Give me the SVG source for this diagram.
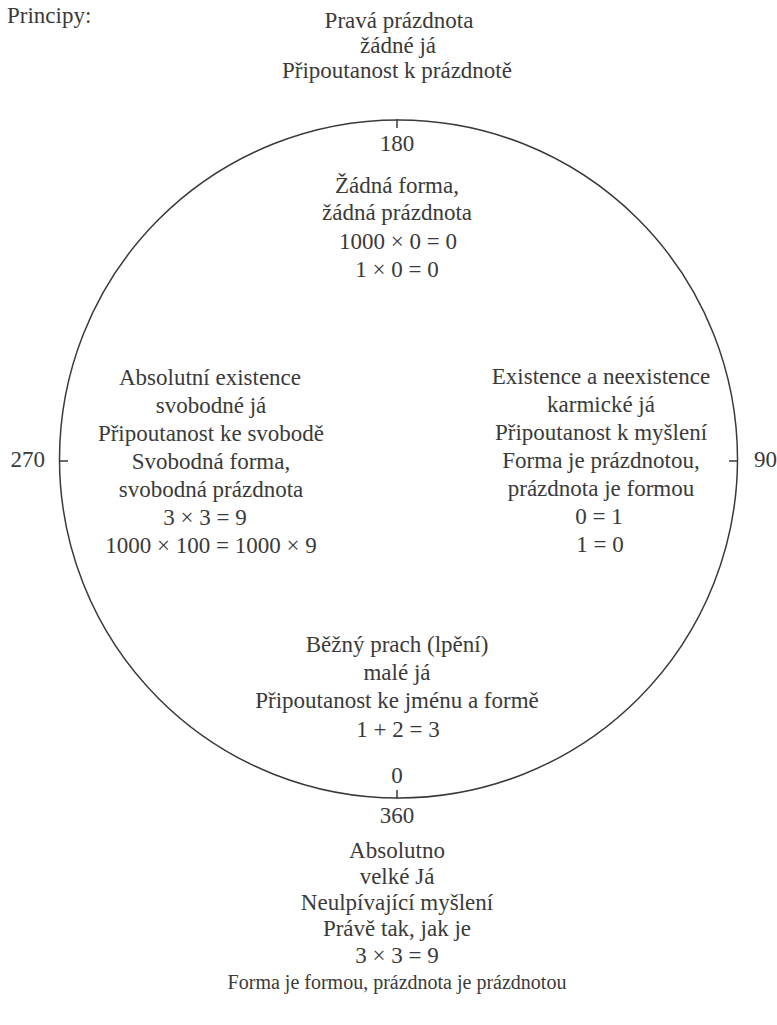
<svg xmlns="http://www.w3.org/2000/svg" width="777" height="1025" viewBox="0 0 777 1025" font-family="'Liberation Serif', 'DejaVu Serif', serif" font-size="23" fill="#3a3a3a">
<style>
.c{text-anchor:middle}
.ln{fill:none;stroke:#3a3a3a;stroke-width:1.5}
</style>
<rect width="777" height="1025" fill="#ffffff"/>
<g id="circle">
<circle class="ln" cx="398.5" cy="459" r="339"/>
</g>
<g id="connectors">
<line class="ln" x1="397" y1="119" x2="397" y2="128"/>
<line class="ln" x1="397" y1="790" x2="397" y2="799"/>
<line class="ln" x1="59" y1="461" x2="68" y2="461"/>
<line class="ln" x1="729" y1="461" x2="738" y2="461"/>
</g>
<g id="title"><text x="7" y="23">Principy:</text></g>
<g id="top-outer">
<text class="c" x="399" y="28">Pravá prázdnota</text>
<text class="c" x="398" y="53">žádné já</text>
<text class="c" x="397" y="78">Připoutanost k prázdnotě</text>
</g>
<g id="label-180"><text class="c" x="397" y="151">180</text></g>
<g id="label-270"><text x="45" y="467" text-anchor="end">270</text></g>
<g id="label-90"><text x="754" y="467">90</text></g>
<g id="label-0"><text class="c" x="397" y="783">0</text></g>
<g id="label-360"><text class="c" x="397" y="823">360</text></g>
<g id="top-inner">
<text class="c" x="397" y="193">Žádná forma,</text>
<text class="c" x="397" y="220">žádná prázdnota</text>
<text class="c" x="398" y="249">1000 × 0 = 0</text>
<text class="c" x="397" y="277">1 × 0 = 0</text>
</g>
<g id="left">
<text class="c" x="210" y="385">Absolutní existence</text>
<text class="c" x="211" y="413">svobodné já</text>
<text class="c" x="211" y="441">Připoutanost ke svobodě</text>
<text class="c" x="211" y="469">Svobodná forma,</text>
<text class="c" x="211" y="497">svobodná prázdnota</text>
<text class="c" x="205" y="525">3 × 3 = 9</text>
<text class="c" x="211" y="553">1000 × 100 = 1000 × 9</text>
</g>
<g id="right">
<text class="c" x="601" y="384">Existence a neexistence</text>
<text class="c" x="601" y="412">karmické já</text>
<text class="c" x="601" y="440">Připoutanost k myšlení</text>
<text class="c" x="601" y="468">Forma je prázdnotou,</text>
<text class="c" x="601" y="496">prázdnota je formou</text>
<text class="c" x="599" y="524">0 = 1</text>
<text class="c" x="600" y="552">1 = 0</text>
</g>
<g id="bottom-inner">
<text class="c" x="397" y="652">Běžný prach (lpění)</text>
<text class="c" x="397" y="680">malé já</text>
<text class="c" x="397" y="708">Připoutanost ke jménu a formě</text>
<text class="c" x="398" y="737">1 + 2 = 3</text>
</g>
<g id="bottom-outer">
<text class="c" x="397" y="858">Absolutno</text>
<text class="c" x="397" y="884">velké Já</text>
<text class="c" x="397" y="910">Neulpívající myšlení</text>
<text class="c" x="397" y="936">Právě tak, jak je</text>
<text class="c" x="397" y="963">3 × 3 = 9</text>
<text class="c" x="397" y="989" font-size="20">Forma je formou, prázdnota je prázdnotou</text>
</g>
</svg>
